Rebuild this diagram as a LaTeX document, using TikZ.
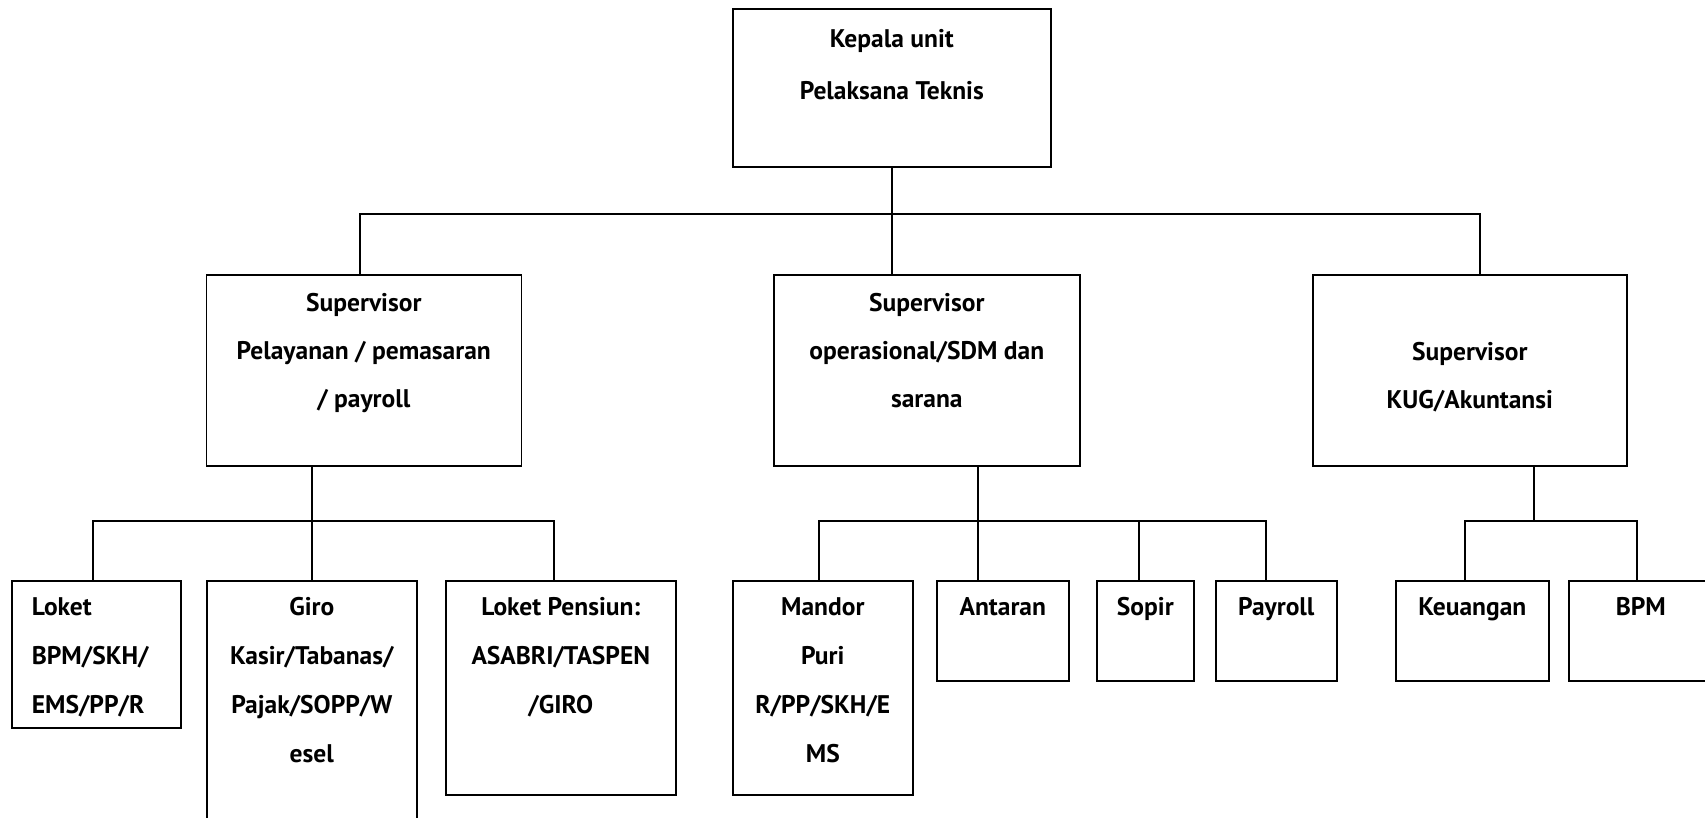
\documentclass[tikz,border=0pt]{standalone}
\usepackage{fontspec}
\setmainfont{PT Sans}
\usetikzlibrary{positioning}

\begin{document}
\begin{tikzpicture}[x=1pt, y=-1pt, line width=1.6pt,
  unit/.style={draw, rectangle, inner sep=0pt, anchor=north west},
  txt/.style={inner sep=0pt, anchor=north, align=center, font=\bfseries\fontsize{25.5}{49}\selectfont},
  suptxt/.style={txt, font=\bfseries\fontsize{25.5}{48}\selectfont}]

\useasboundingbox (0,0) rectangle (1705,817);
\clip (0,0) rectangle (1705,817);

% kepala
\node[unit, minimum width=318pt, minimum height=158pt] (kepala) at (732,8) {};
\node[txt, font=\bfseries\fontsize{25.5}{52}\selectfont, below=2pt of kepala.north] (kepala-t) {\strut Kepala unit\\Pelaksana Teknis};

% supervisor
\node[unit, minimum width=315pt, minimum height=191pt] (supA) at (205.5,274) {};
\node[unit, minimum width=306pt, minimum height=191pt] (supB) at (773,274) {};
\node[unit, minimum width=314pt, minimum height=191pt] (supC) at (1312,274) {};
\node[suptxt, below=3pt of supA.north] (supA-t) {\strut Supervisor\\Pelayanan / pemasaran\\/ payroll};
\node[suptxt, below=3pt of supB.north] (supB-t) {\strut Supervisor\\operasional/SDM dan\\sarana};
\node[suptxt, below=52pt of supC.north] (supC-t) {\strut Supervisor\\KUG/Akuntansi};

% bawah
\node[unit, minimum width=169pt, minimum height=147pt] (loket) at (11,580) {};
\node[unit, minimum width=210pt, minimum height=260pt] (giro) at (206,580) {};
\node[unit, minimum width=230pt, minimum height=214pt] (pensiun) at (445,580) {};
\node[unit, minimum width=180pt, minimum height=214pt] (mandor) at (732,580) {};
\node[unit, minimum width=132pt, minimum height=100pt] (antaran) at (936,580) {};
\node[unit, minimum width=97pt, minimum height=100pt] (sopir) at (1096,580) {};
\node[unit, minimum width=121pt, minimum height=100pt] (payroll) at (1215,580) {};
\node[unit, minimum width=153pt, minimum height=100pt] (keuangan) at (1395,580) {};
\node[unit, minimum width=144pt, minimum height=100pt] (bpm) at (1568,580) {};

\node[txt, align=left, below right=0pt and 20pt of loket.north west] (loket-t) {\strut Loket\\BPM/SKH/\\EMS/PP/R};
\node[txt, below=0pt of giro.north] (giro-t) {\strut Giro\\Kasir/Tabanas/\\Pajak/SOPP/W\\esel};
\node[txt, below=0pt of pensiun.north] (pensiun-t) {\strut Loket Pensiun:\\ASABRI/TASPEN\\/GIRO};
\node[txt, below=0pt of mandor.north] (mandor-t) {\strut Mandor\\Puri\\R/PP/SKH/E\\MS};
\node[txt, below=0pt of antaran.north] (antaran-t) {\strut Antaran};
\node[txt, below=0pt of sopir.north] (sopir-t) {\strut Sopir};
\node[txt, below=0pt of payroll.north] (payroll-t) {\strut Payroll};
\node[txt, below=0pt of keuangan.north] (keuangan-t) {\strut Keuangan};
\node[txt, below=0pt of bpm.north] (bpm-t) {\strut BPM};

% garis
\coordinate (ja) at (360,214);
\coordinate (jc) at (1480,214);
\draw (kepala.south) -- (kepala.south |- supB.north);
\draw (ja |- supA.north) -- (ja) -- (jc) -- (jc |- supC.north);

\coordinate (l1) at (93,521);
\coordinate (l2) at (312,521);
\coordinate (l3) at (554,521);
\draw (l2 |- supA.south) -- (l2 |- giro.north);
\draw (l1 |- loket.north) -- (l1) -- (l3) -- (l3 |- pensiun.north);

\coordinate (m1) at (819,521);
\coordinate (m2) at (978,521);
\coordinate (m3) at (1139,521);
\coordinate (m4) at (1266,521);
\draw (m2 |- supB.south) -- (m2 |- antaran.north);
\draw (m1 |- mandor.north) -- (m1) -- (m4) -- (m4 |- payroll.north);
\draw (m3) -- (m3 |- sopir.north);

\coordinate (r0) at (1534,521);
\coordinate (r1) at (1465,521);
\coordinate (r2) at (1637,521);
\draw (r0 |- supC.south) -- (r0);
\draw (r1 |- keuangan.north) -- (r1) -- (r2) -- (r2 |- bpm.north);

\end{tikzpicture}
\end{document}
